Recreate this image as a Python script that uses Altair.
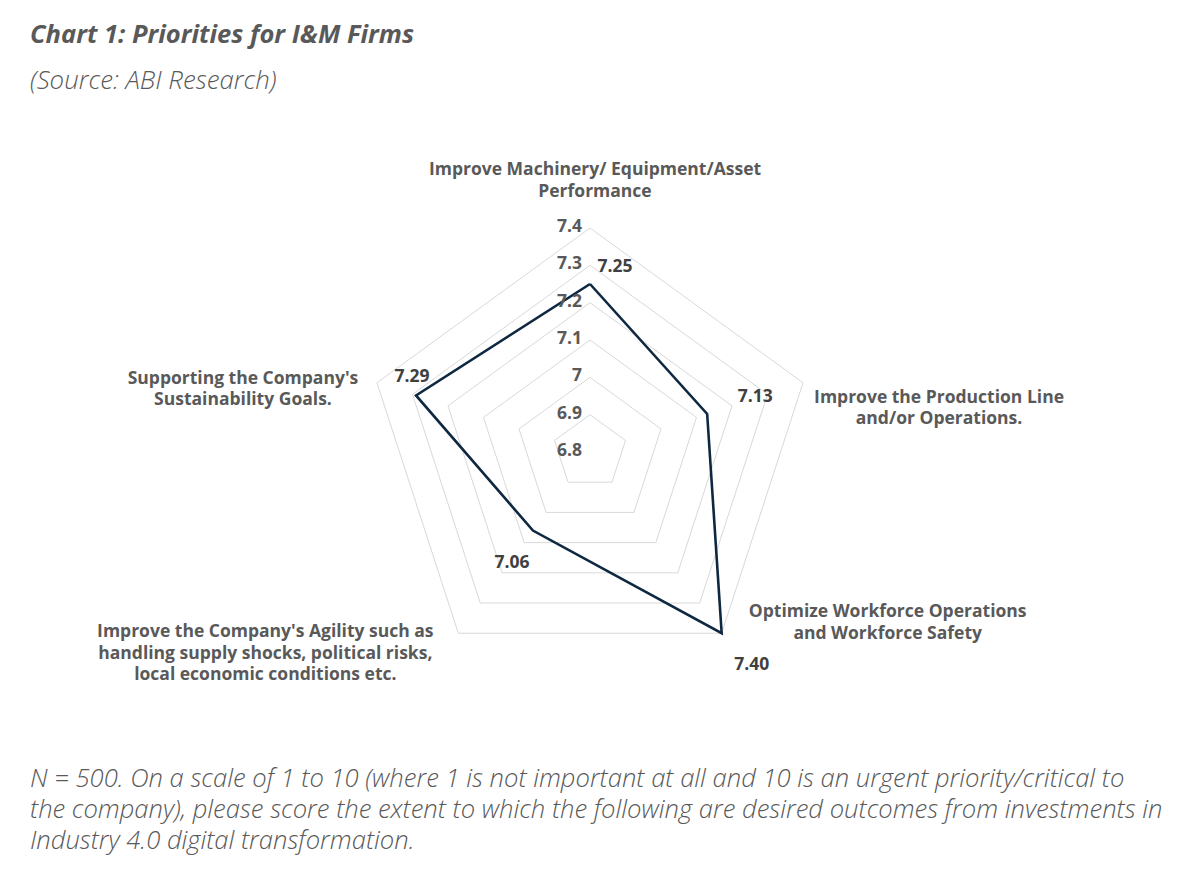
import math
import altair as alt
import pandas as pd

# ---------------- data ----------------
TITLE = "Chart 1: Priorities for I&M Firms"
SUBTITLE = "(Source: ABI Research)"
FOOTNOTE = [
    "N = 500. On a scale of 1 to 10 (where 1 is not important at all and 10 is an urgent priority/critical to",
    "the company), please score the extent to which the following are desired outcomes from investments in",
    "Industry 4.0 digital transformation.",
]
CATEGORIES = [
    "Improve Machinery/ Equipment/Asset\nPerformance",
    "Improve the Production Line\nand/or Operations.",
    "Optimize Workforce Operations\nand Workforce Safety",
    "Improve the Company's Agility such as\nhandling supply shocks, political risks,\nlocal economic conditions etc.",
    "Supporting the Company's\nSustainability Goals.",
]
VALUES = [7.25, 7.13, 7.40, 7.06, 7.29]
VALUE_LABELS = ["7.25", "7.13", "7.40", "7.06", "7.29"]
LEVELS = [6.8, 6.9, 7.0, 7.1, 7.2, 7.3, 7.4]
LEVEL_LABELS = ["6.8", "6.9", "7", "7.1", "7.2", "7.3", "7.4"]

# ---------------- layout ----------------
W, H = 1180, 852
CX, CY = 582, 444          # radar centre inside plot area (px)
RADIUS_PX = 224
RMIN, RMAX = LEVELS[0], LEVELS[-1]
PX = RADIUS_PX / (RMAX - RMIN)

VALUE_LABEL_OFFSETS = [(25, -17), (48, -17), (30, 32), (-21, 32), (-4, -18)]
# offsets of the first text line from the outer ring vertex
CATEGORY_LABEL_OFFSETS = [(5, -58), (136, 15), (166, -21), (-193, -1), (-134, -4)]

FONT = "Open Sans"
GREY = "#595959"
LABEL_SIZE = 17.5

n = len(CATEGORIES)


def polar(v, i):
    a = 2 * math.pi * i / n
    r = v - RMIN
    return r * math.sin(a), r * math.cos(a)


rings = []
for lvl in LEVELS[1:]:
    for k in range(n + 1):
        x, y = polar(lvl, k % n)
        rings.append({"level": lvl, "k": k, "x": x, "y": y})
rings_df = pd.DataFrame(rings)

series = []
for k in range(n + 1):
    x, y = polar(VALUES[k % n], k % n)
    series.append({"k": k, "x": x, "y": y})
series_df = pd.DataFrame(series)

ticks_df = pd.DataFrame(
    [{"label": lab, "x": polar(l, 0)[0], "y": polar(l, 0)[1]} for l, lab in zip(LEVELS, LEVEL_LABELS)]
)

vl_df = pd.DataFrame(
    [{"i": i, "label": VALUE_LABELS[i], "x": polar(VALUES[i], i)[0], "y": polar(VALUES[i], i)[1]} for i in range(n)]
)
cat_df = pd.DataFrame(
    [{"i": i, "label": CATEGORIES[i], "x": polar(RMAX, i)[0], "y": polar(RMAX, i)[1]} for i in range(n)]
)

xs = alt.Scale(domain=[-CX / PX, (W - CX) / PX], nice=False, zero=False)
ys = alt.Scale(domain=[-(H - CY) / PX, CY / PX], nice=False, zero=False)
X = alt.X("x:Q", scale=xs, axis=None)
Y = alt.Y("y:Q", scale=ys, axis=None)

ring_layer = alt.Chart(rings_df).mark_line(color="#d9d9d9", strokeWidth=1).encode(
    x=X, y=Y, detail="level:N", order="k:Q"
)
series_layer = alt.Chart(series_df).mark_line(color="#0e2841", strokeWidth=2.6, strokeJoin="miter").encode(
    x=X, y=Y, order="k:Q"
)
tick_layer = alt.Chart(ticks_df).mark_text(
    align="right", baseline="middle", dx=-8, dy=-1, font=FONT, fontWeight="bold", fontSize=LABEL_SIZE, color=GREY
).encode(x=X, y=Y, text="label:N")

layers = [ring_layer, series_layer, tick_layer]

for i, (dx, dy) in enumerate(VALUE_LABEL_OFFSETS):
    layers.append(
        alt.Chart(vl_df).transform_filter(alt.datum.i == i).mark_text(
            align="center", baseline="middle", dx=dx, dy=dy, font=FONT, fontWeight="bold",
            fontSize=LABEL_SIZE, color="#404040"
        ).encode(x=X, y=Y, text="label:N")
    )

for i, (dx, dy) in enumerate(CATEGORY_LABEL_OFFSETS):
    layers.append(
        alt.Chart(cat_df).transform_filter(alt.datum.i == i).mark_text(
            align="center", baseline="middle", dx=dx, dy=dy, font=FONT, fontWeight="bold",
            fontSize=LABEL_SIZE, lineBreak="\n", lineHeight=21.5, color=GREY
        ).encode(x=X, y=Y, text="label:N")
    )

title_layer = alt.Chart(pd.DataFrame({"t": [TITLE]})).mark_text(
    align="left", baseline="alphabetic", font=FONT, fontStyle="italic", fontWeight="bold",
    fontSize=25.5, color=GREY
).encode(x=alt.value(22), y=alt.value(35), text="t:N")
subtitle_layer = alt.Chart(pd.DataFrame({"t": [SUBTITLE]})).mark_text(
    align="left", baseline="alphabetic", font=FONT, fontStyle="italic", fontWeight=300,
    fontSize=25.8, color=GREY
).encode(x=alt.value(22), y=alt.value(81), text="t:N")
foot_layer = alt.Chart(pd.DataFrame({"t": ["\n".join(FOOTNOTE)]})).mark_text(
    align="left", baseline="alphabetic", font=FONT, fontStyle="italic", fontWeight=300,
    fontSize=25.6, lineBreak="\n", lineHeight=31, color=GREY
).encode(x=alt.value(22), y=alt.value(779), text="t:N")

layers += [title_layer, subtitle_layer, foot_layer]

chart = alt.layer(*layers).properties(
    width=W, height=H, padding=0, background="white"
).configure_view(stroke=None)

chart.save("out.html", embed_options={"renderer": "svg", "actions": False})
